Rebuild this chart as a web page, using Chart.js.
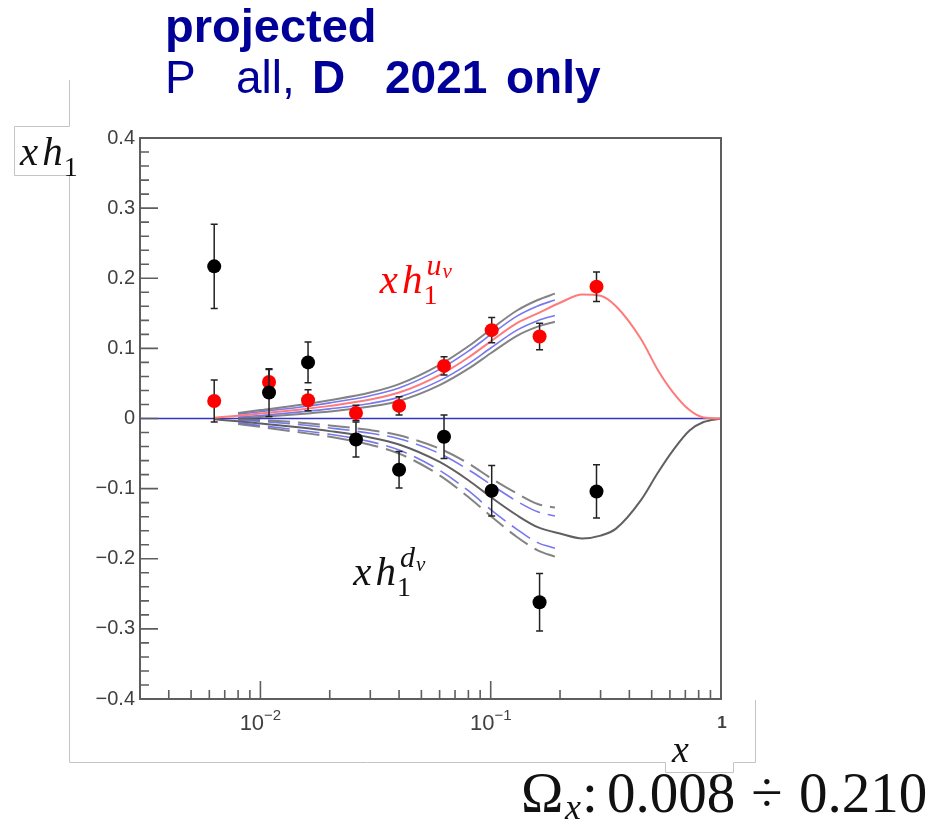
<!DOCTYPE html>
<html>
<head>
<meta charset="utf-8">
<script src="https://cdn.jsdelivr.net/npm/chart.js@4.4.1/dist/chart.umd.min.js"></script>
<style>
  html, body { margin: 0; padding: 0; background: #fff; }
  canvas { display: block; }
</style>
</head>
<body>
<canvas id="c" width="933" height="822"></canvas>
<script>
// Projected x-bins and valence transversity values with statistical errors
const xBins    = [0.0063, 0.0109, 0.0161, 0.026, 0.040, 0.0627, 0.101, 0.163, 0.288];
const uvValues = [0.025, 0.052, 0.026, 0.008, 0.018, 0.075, 0.126, 0.117, 0.188];
const uvErrors = [0.030, 0.018, 0.015, 0.011, 0.013, 0.013, 0.018, 0.019, 0.021];
const dvValues = [0.217, 0.037, 0.080, -0.030, -0.073, -0.026, -0.103, -0.262, -0.104];
const dvErrors = [0.060, 0.034, 0.029, 0.025, 0.026, 0.031, 0.036, 0.041, 0.038];

// Model curves for x h1^uv and x h1^dv
const modelX  = [0.0063, 0.008, 0.01, 0.015, 0.02, 0.03, 0.04, 0.06, 0.08, 0.1, 0.13, 0.16, 0.2, 0.25, 0.3, 0.35, 0.45, 0.53, 0.62, 0.73, 0.84, 1.0];
const uvModel = [0.001, 0.004, 0.007, 0.013, 0.018, 0.027, 0.037, 0.062, 0.087, 0.110, 0.136, 0.150, 0.165, 0.177, 0.175, 0.160, 0.113, 0.070, 0.037, 0.012, 0.0015, 0];
const dvModel = [-0.001, -0.004, -0.007, -0.013, -0.018, -0.027, -0.037, -0.062, -0.088, -0.112, -0.138, -0.155, -0.164, -0.171, -0.167, -0.157, -0.116, -0.078, -0.045, -0.017, -0.005, 0];

// Uncertainty bands over the measured x range
const bandX    = [0.008, 0.01, 0.015, 0.02, 0.03, 0.04, 0.06, 0.08, 0.1, 0.13, 0.16, 0.19];
const uvGrayHi = [0.008, 0.012, 0.0195, 0.026, 0.037, 0.049, 0.0765, 0.103, 0.127, 0.154, 0.169, 0.178];
const uvBlueHi = [0.006, 0.0097, 0.0165, 0.0223, 0.0325, 0.0435, 0.070, 0.096, 0.1195, 0.146, 0.1605, 0.169];
const uvBlueLo = [0.002, 0.0043, 0.0095, 0.0137, 0.0215, 0.0305, 0.054, 0.078, 0.1005, 0.126, 0.1395, 0.147];
const uvGrayLo = [0.000, 0.002, 0.0065, 0.010, 0.017, 0.025, 0.0475, 0.071, 0.093, 0.118, 0.131, 0.138];
const dvGrayHi = [0.000, -0.002, -0.006, -0.010, -0.0165, -0.024, -0.043, -0.064, -0.085, -0.107, -0.122, -0.127];
const dvBlueHi = [-0.002, -0.004, -0.009, -0.0135, -0.021, -0.029, -0.050, -0.073, -0.094, -0.118, -0.133, -0.139];
const dvBlueLo = [-0.006, -0.010, -0.017, -0.0225, -0.033, -0.045, -0.074, -0.103, -0.130, -0.158, -0.177, -0.185];
const dvGrayLo = [-0.008, -0.012, -0.020, -0.026, -0.0375, -0.050, -0.081, -0.112, -0.139, -0.169, -0.188, -0.197];

// Axis ranges and tick labels
const xRange = [0.003, 1];
const yRange = [-0.4, 0.4];
const xTickValues = [0.01, 0.1, 1];
const xTickBase = ['10', '10', '1'];
const xTickExp  = ['\u22122', '\u22121', ''];
const yTickValues = [-0.4, -0.3, -0.2, -0.1, 0, 0.1, 0.2, 0.3, 0.4];
const yTickLabels = ['\u22120.4', '\u22120.3', '\u22120.2', '\u22120.1', '0', '0.1', '0.2', '0.3', '0.4'];

const SANS = '"Liberation Sans", Arial, sans-serif';
const SERIF = '"Liberation Serif", "DejaVu Serif", serif';

const toPts = (xs, ys) => xs.map((x, i) => ({ x, y: ys[i] }));
function lineSet(xs, ys, color, width, dash, order) {
  return {
    data: toPts(xs, ys), showLine: true, borderColor: color, borderWidth: width,
    borderDash: dash, pointRadius: 0, fill: false, tension: 0.4,
    cubicInterpolationMode: 'monotone', order
  };
}
function pointSet(ys, errs, color) {
  return {
    data: toPts(xBins, ys), errors: errs, showLine: false, pointRadius: 7,
    pointBackgroundColor: color, pointBorderColor: color, pointBorderWidth: 0, order: 0
  };
}

const GRAY = 'rgba(100,100,100,0.8)';
const BLUE = 'rgba(95,95,235,0.85)';
const DASH = [22, 8];

const datasets = [
  lineSet(xRange, [0, 0], '#3434c4', 1.6, [], 9),
  lineSet(bandX, uvGrayHi, GRAY, 2, [], 5),
  lineSet(bandX, uvBlueHi, BLUE, 1.6, [], 5),
  lineSet(bandX, uvBlueLo, BLUE, 1.6, [], 5),
  lineSet(bandX, uvGrayLo, GRAY, 2, [], 5),
  lineSet(bandX, dvGrayHi, GRAY, 2, DASH, 5),
  lineSet(bandX, dvBlueHi, BLUE, 1.6, DASH, 5),
  lineSet(bandX, dvBlueLo, BLUE, 1.6, DASH, 5),
  lineSet(bandX, dvGrayLo, GRAY, 2, DASH, 5),
  lineSet(modelX, uvModel, '#ff7a7a', 2, [], 3),
  lineSet(modelX, dvModel, '#606060', 2, [], 3),
  pointSet(dvValues, dvErrors, '#000000'),
  pointSet(uvValues, uvErrors, '#ff0000')
];

// x h_1 with subscript 1 and a two-level superscript
function drawXh(ctx, x, y, supA, supB, color, size) {
  ctx.save();
  ctx.fillStyle = color;
  ctx.textAlign = 'left';
  ctx.textBaseline = 'alphabetic';
  ctx.font = 'italic ' + size + 'px ' + SERIF;
  ctx.fillText('x', x, y);
  const hx = x + ctx.measureText('x').width + size * 0.1;
  ctx.fillText('h', hx, y);
  const ex = hx + ctx.measureText('h').width + 1;
  ctx.font = Math.round(size * 0.68) + 'px ' + SERIF;
  ctx.fillText('1', ex, y + size * 0.27);
  if (supA) {
    ctx.font = 'italic ' + Math.round(size * 0.72) + 'px ' + SERIF;
    ctx.fillText(supA, ex + 3, y - size * 0.44);
    const sx = ex + 3 + ctx.measureText(supA).width + 1;
    ctx.font = 'italic ' + Math.round(size * 0.52) + 'px ' + SERIF;
    ctx.fillText(supB, sx, y - size * 0.36);
  }
  ctx.restore();
}

const decor = {
  id: 'decor',
  beforeDatasetDraw(chart, args) {
    const ds = chart.data.datasets[args.index];
    if (!ds.errors) return;
    const xs = chart.scales.x, ys = chart.scales.y, ctx = chart.ctx;
    ctx.save();
    ctx.strokeStyle = '#222';
    ctx.lineWidth = 1.5;
    ds.data.forEach((p, i) => {
      const px = xs.getPixelForValue(p.x);
      const top = ys.getPixelForValue(p.y + ds.errors[i]);
      const bot = ys.getPixelForValue(p.y - ds.errors[i]);
      ctx.beginPath();
      ctx.moveTo(px, top); ctx.lineTo(px, bot);
      ctx.moveTo(px - 3.5, top); ctx.lineTo(px + 3.5, top);
      ctx.moveTo(px - 3.5, bot); ctx.lineTo(px + 3.5, bot);
      ctx.stroke();
    });
    ctx.restore();
  },
  afterDraw(chart) {
    const ctx = chart.ctx, a = chart.chartArea;
    const xs = chart.scales.x, ys = chart.scales.y;
    ctx.save();

    // frame of the embedded figure
    ctx.strokeStyle = '#c4c4c4';
    ctx.lineWidth = 1;
    ctx.beginPath();
    ctx.moveTo(69.5, 80); ctx.lineTo(69.5, 126.5); ctx.lineTo(14.5, 126.5);
    ctx.lineTo(14.5, 175.5); ctx.lineTo(69.5, 175.5); ctx.lineTo(69.5, 762.5);
    ctx.lineTo(665.5, 762.5); ctx.lineTo(665.5, 772.5); ctx.lineTo(733.5, 772.5);
    ctx.lineTo(733.5, 762.5); ctx.lineTo(755.5, 762.5); ctx.lineTo(755.5, 700);
    ctx.stroke();

    // axis box
    ctx.strokeStyle = '#5e5e5e';
    ctx.lineWidth = 2;
    ctx.strokeRect(a.left, a.top, a.right - a.left, a.bottom - a.top);

    // inward ticks
    ctx.lineWidth = 1.6;
    ctx.beginPath();
    for (let k = 0; k < yTickValues.length; k++) {
      const v = yTickValues[k];
      const py = ys.getPixelForValue(v);
      ctx.moveTo(a.left, py); ctx.lineTo(a.left + 18, py);
      if (k < yTickValues.length - 1) {
        for (let m = 1; m < 5; m++) {
          const pm = ys.getPixelForValue(v + m * 0.02);
          ctx.moveTo(a.left, pm); ctx.lineTo(a.left + 9, pm);
        }
      }
    }
    xTickValues.forEach(v => {
      const px = xs.getPixelForValue(v);
      ctx.moveTo(px, a.bottom); ctx.lineTo(px, a.bottom - 18);
    });
    [0.001, 0.01, 0.1].forEach(dec => {
      for (let m = 2; m < 10; m++) {
        const v = m * dec;
        if (v <= xRange[0] || v >= xRange[1]) continue;
        const px = xs.getPixelForValue(v);
        ctx.moveTo(px, a.bottom); ctx.lineTo(px, a.bottom - 9);
      }
    });
    ctx.stroke();

    // x tick labels with exponents
    ctx.fillStyle = '#404040';
    ctx.textAlign = 'left';
    ctx.textBaseline = 'alphabetic';
    xTickValues.forEach((v, i) => {
      const px = xs.getPixelForValue(v);
      const exp = xTickExp[i];
      if (exp) {
        ctx.font = '22px ' + SANS;
        const wb = ctx.measureText(xTickBase[i]).width;
        ctx.font = '15px ' + SANS;
        const we = ctx.measureText(exp).width;
        const x0 = px - (wb + we) / 2;
        ctx.font = '22px ' + SANS;
        ctx.fillText(xTickBase[i], x0, a.bottom + 31);
        ctx.font = '15px ' + SANS;
        ctx.fillText(exp, x0 + wb, a.bottom + 21);
      } else {
        ctx.font = 'bold 17px ' + SANS;
        const wb = ctx.measureText(xTickBase[i]).width;
        ctx.fillText(xTickBase[i], px - wb / 2 + 1, a.bottom + 29);
      }
    });

    // curve labels
    drawXh(ctx, xs.getPixelForValue(0.033), ys.getPixelForValue(0.179), 'u', 'v', '#ff0000', 41);
    drawXh(ctx, xs.getPixelForValue(0.0253), ys.getPixelForValue(-0.238), 'd', 'v', '#111111', 41);

    // axis titles
    drawXh(ctx, 20, 165, '', '', '#111111', 41);
    ctx.fillStyle = '#111111';
    ctx.font = 'italic 38px ' + SERIF;
    ctx.fillText('x', 672, 762);

    // range of the measurement
    ctx.font = '57px ' + SERIF;
    ctx.fillText('\u03A9', 521, 812);
    ctx.font = 'italic 36px ' + SERIF;
    ctx.fillText('x', 565, 819);
    ctx.font = '57px ' + SERIF;
    ctx.fillText(':', 582, 812);
    ctx.fillText('0.008', 607, 812);
    ctx.textAlign = 'center';
    ctx.fillText('\u00F7', 767, 812);
    ctx.textAlign = 'left';
    ctx.fillText('0.210', 799, 812);

    // heading
    ctx.fillStyle = '#000099';
    ctx.font = 'bold 47px ' + SANS;
    ctx.fillText('projected', 165, 42);
    ctx.font = '46px ' + SANS;
    ctx.fillText('P', 165, 93);
    ctx.fillText('all,', 236, 93);
    ctx.font = 'bold 46px ' + SANS;
    ctx.fillText('D', 312, 93);
    ctx.fillText('2021', 385, 93);
    ctx.fillText('only', 506, 93);

    ctx.restore();
  }
};

new Chart(document.getElementById('c'), {
  type: 'scatter',
  data: { datasets },
  options: {
    responsive: false,
    animation: false,
    devicePixelRatio: 1,
    layout: { padding: { left: 80, right: 212, top: 138, bottom: 83 } },
    plugins: { legend: { display: false }, tooltip: { enabled: false } },
    scales: {
      x: {
        type: 'logarithmic', min: xRange[0], max: xRange[1],
        grid: { display: false, drawTicks: false }, border: { display: false },
        afterBuildTicks: s => { s.ticks = xTickValues.map(v => ({ value: v })); },
        afterFit: s => { s.height = 40; },
        ticks: { display: false }
      },
      y: {
        min: yRange[0], max: yRange[1],
        grid: { display: false, drawTicks: false }, border: { display: false },
        afterBuildTicks: s => { s.ticks = yTickValues.map(v => ({ value: v })); },
        afterFit: s => { s.width = 60; },
        ticks: {
          padding: 5, color: '#404040',
          font: { family: SANS, size: 20 },
          callback: (v, i) => yTickLabels[i]
        }
      }
    }
  },
  plugins: [decor]
});
</script>
</body>
</html>
